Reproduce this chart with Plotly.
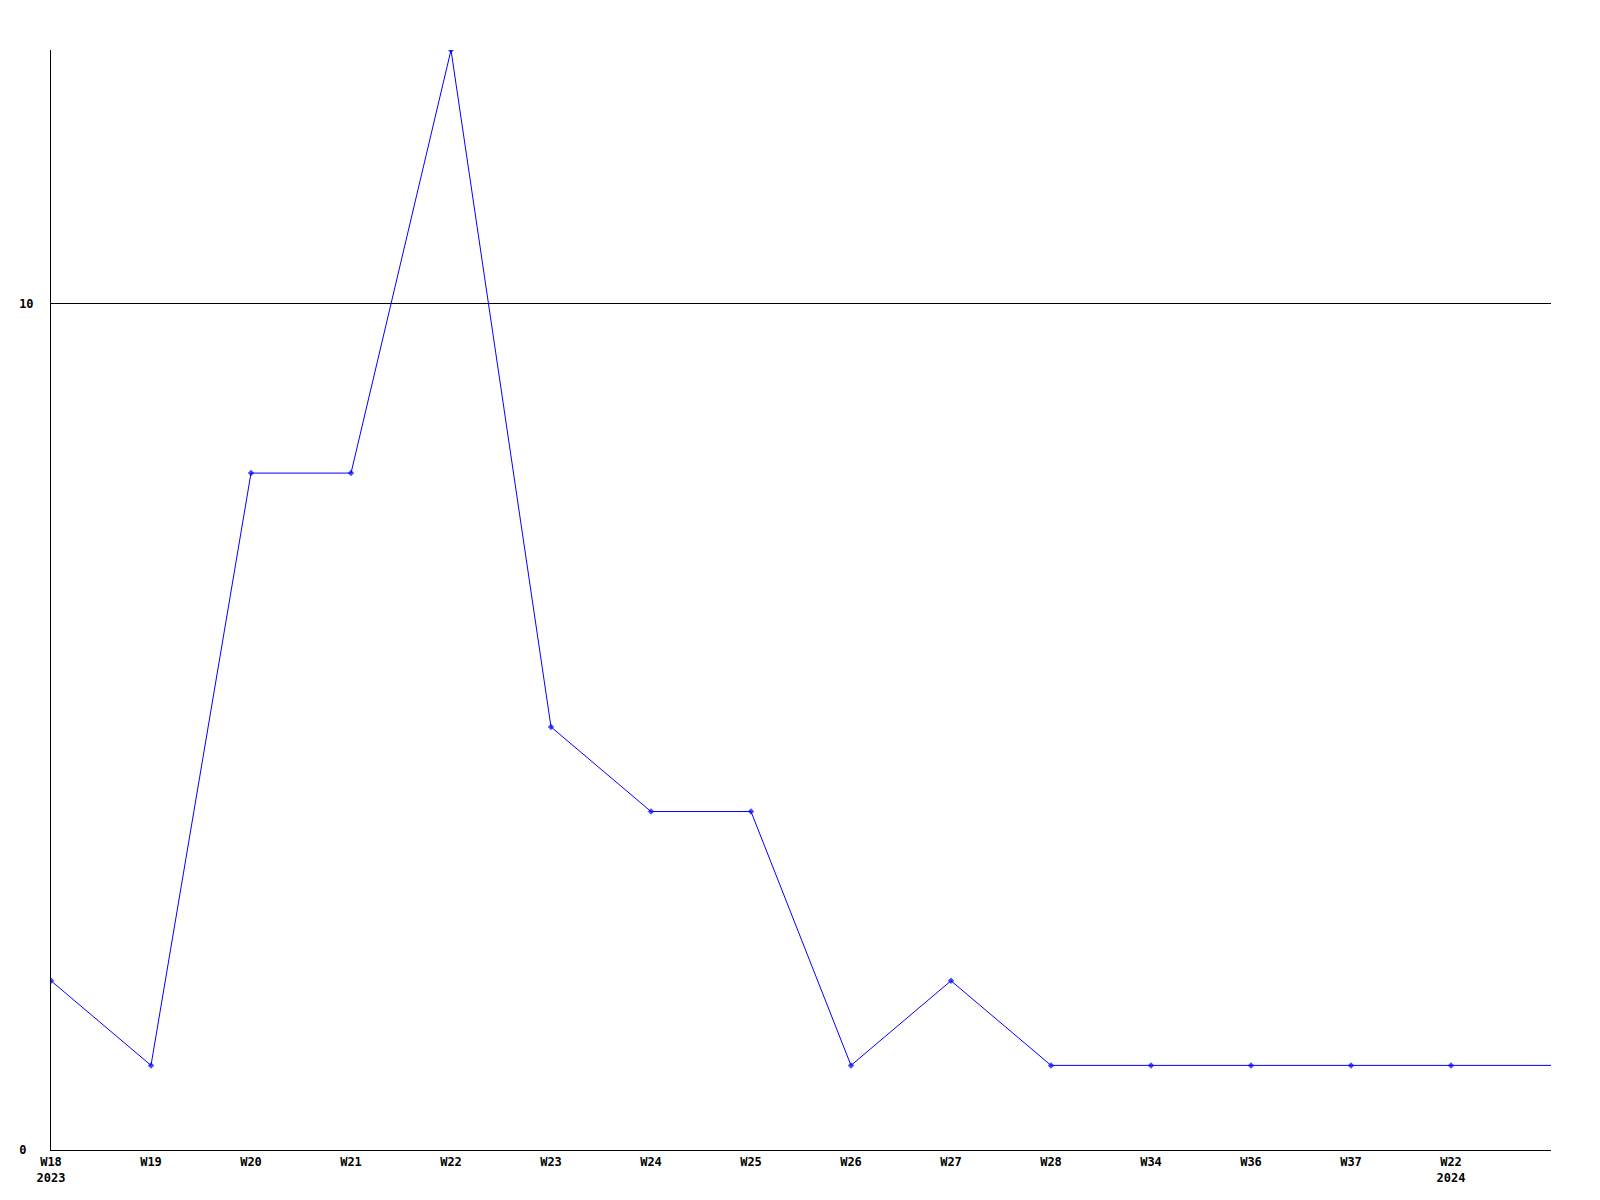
import plotly.graph_objects as go

weeks = ["W18", "W19", "W20", "W21", "W22", "W23", "W24", "W25", "W26",
         "W27", "W28", "W34", "W36", "W37", "W22", ""]
years = ["2023", "", "", "", "", "", "", "", "", "", "", "", "", "", "2024", ""]
values = [2, 1, 8, 8, 13, 5, 4, 4, 1, 2, 1, 1, 1, 1, 1, 1]
y_ticks = [0, 10]

xs = list(range(len(values)))
labels = [w + ("<br>" + y if y else "") for w, y in zip(weeks, years)]
sizes = [5] * len(values)
sizes[-1] = 0

FONT = "DejaVu Sans Mono"

fig = go.Figure()
fig.add_trace(go.Scatter(
    x=xs, y=values, mode="lines+markers",
    line=dict(color="#0000ff", width=1),
    marker=dict(color="#0000ff", size=sizes, symbol="diamond", line=dict(width=0)),
    hoverinfo="x+y",
))

fig.update_layout(
    width=1600, height=1200,
    margin=dict(l=43, r=57, t=42, b=58),
    paper_bgcolor="white", plot_bgcolor="white",
    showlegend=False,
    font=dict(family=FONT, size=12, color="black"),
)
fig.update_xaxes(
    range=[0, len(values) - 1],
    tickmode="array", tickvals=xs[:-1], ticktext=labels[:-1],
    showgrid=False, zeroline=False,
    showline=True, linecolor="black", linewidth=1,
    ticks="", ticklabelstandoff=1, automargin=False,
    tickfont=dict(family=FONT, size=12, color="black", weight="bold"),
)
y_labels = [str(v).ljust(2, "\u00a0") for v in y_ticks]
fig.update_yaxes(
    range=[0, 13],
    tickmode="array", tickvals=y_ticks, ticktext=y_labels,
    showgrid=True, gridcolor="black", gridwidth=1,
    zeroline=False,
    showline=True, linecolor="black", linewidth=1,
    ticks="", ticklabelstandoff=14, automargin=False,
    tickfont=dict(family=FONT, size=12, color="black", weight="bold"),
)

fig.write_html("out.html")
